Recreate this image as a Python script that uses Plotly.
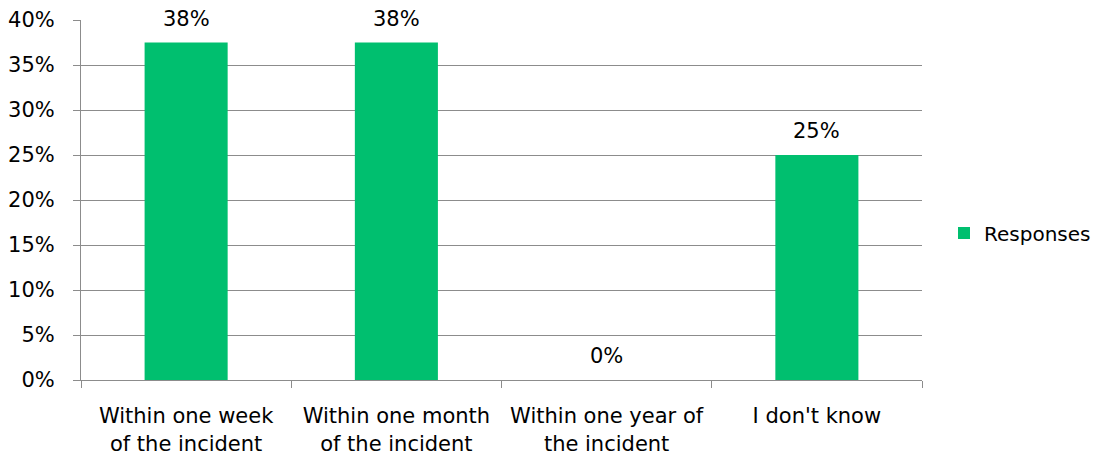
import plotly.graph_objects as go

categories = ["Within one week<br>of the incident", "Within one month<br>of the incident",
              "Within one year of<br>the incident", "I don't know"]
values = [0.375, 0.375, 0.0, 0.25]
labels = ["38%", "38%", "0%", "25%"]
tick_vals = [0, 0.05, 0.10, 0.15, 0.20, 0.25, 0.30, 0.35, 0.40]
tick_text = ["0%", "5%", "10%", "15%", "20%", "25%", "30%", "35%", "40%"]

FONT = "DejaVu Sans"
FS = 21
GRID = "#8C8C8C"

fig = go.Figure()
fig.add_trace(go.Bar(x=categories, y=values, name="Responses",
                     marker=dict(color="#00BF6F", line=dict(width=0))))

for c, v, t in zip(categories, values, labels):
    fig.add_annotation(x=c, y=v, text=t, showarrow=False, yanchor="middle",
                       yshift=24, font=dict(family=FONT, size=FS, color="black"))

fig.update_layout(
    width=1104, height=461,
    margin=dict(l=81, r=182, t=20, b=81, autoexpand=False),
    paper_bgcolor="white", plot_bgcolor="white",
    font=dict(family=FONT, size=FS, color="black"),
    bargap=0.605,
    showlegend=True,
    legend=dict(xref="container", yref="container",
                x=944 / 1104, y=1 - 233 / 461,
                xanchor="left", yanchor="middle",
                font=dict(family=FONT, size=20, color="black"),
                itemwidth=30,
                bgcolor="rgba(0,0,0,0)"),
)
fig.update_yaxes(range=[0, 0.4], tickvals=tick_vals, ticktext=tick_text,
                 showgrid=True, gridcolor=GRID, gridwidth=1,
                 showline=True, linecolor=GRID, linewidth=1,
                 ticks="outside", ticklen=7, tickcolor=GRID,
                 ticklabelstandoff=14, zeroline=False, automargin=False,
                 tickfont=dict(family=FONT, size=FS, color="black"))
fig.update_xaxes(showline=True, linecolor=GRID, linewidth=1,
                 ticks="outside", ticklen=7, tickcolor=GRID,
                 tickson="boundaries", showgrid=False, automargin=False,
                 ticklabelstandoff=17,
                 tickfont=dict(family=FONT, size=FS, color="black"))

fig.write_html("out.html")
